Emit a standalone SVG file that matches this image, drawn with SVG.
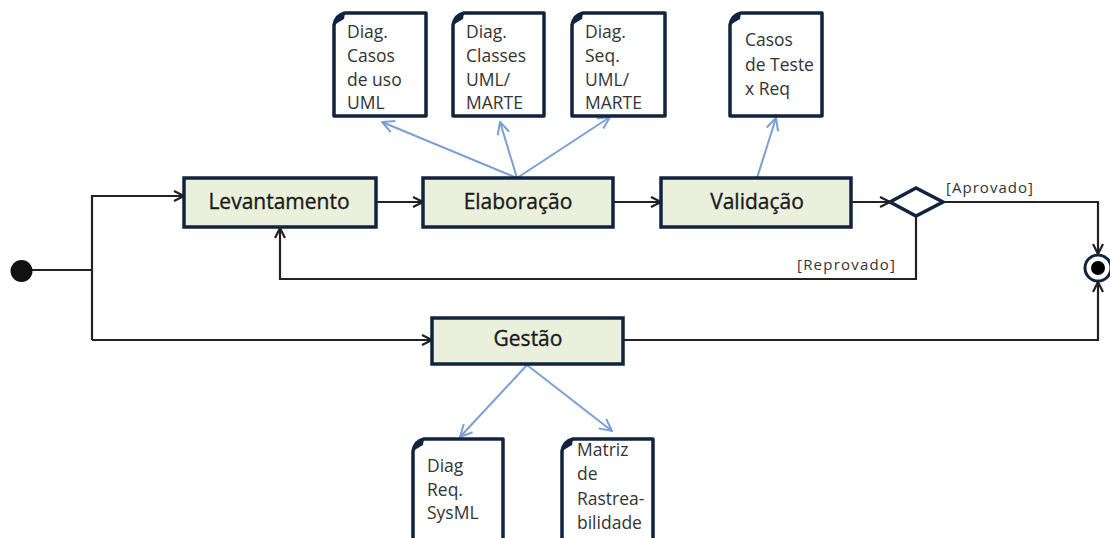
<svg xmlns="http://www.w3.org/2000/svg" width="1110" height="538" viewBox="0 0 1110 538">
<defs>
<style>
.box{fill:#ebf0dd;stroke:#10243f;stroke-width:3.5}
.doc{fill:#ffffff;stroke:#10243f;stroke-width:3.5;stroke-linejoin:round}
.fold{fill:#10243f}
.lbl{font-family:"Open Sans",sans-serif;font-size:21px;fill:#1a1a1a;text-anchor:middle;stroke:#1a1a1a;stroke-width:0.35}
.dt{font-family:"Open Sans",sans-serif;font-size:17.5px;fill:#333333}
.g{font-family:"Open Sans",sans-serif;font-size:15px;fill:#333333}
.c{fill:none;stroke:#222222;stroke-width:2.2}
.b{fill:none;stroke:#7aa0d4;stroke-width:2}
</style>
<marker id="ah" viewBox="0 0 12 12" refX="11" refY="6" markerWidth="12" markerHeight="12" markerUnits="userSpaceOnUse" orient="auto">
<path d="M1,1 L11,6 L1,11" fill="none" stroke="#222222" stroke-width="2.2"/>
</marker>
<marker id="bh" viewBox="0 0 14 14" refX="13" refY="7" markerWidth="14" markerHeight="14" markerUnits="userSpaceOnUse" orient="auto">
<path d="M1,1 L13,7 L1,13" fill="none" stroke="#7aa0d4" stroke-width="2"/>
</marker>
</defs>
<rect width="1110" height="538" fill="#ffffff"/>

<g id="connectors">
<path class="c" d="M32,270 H92"/>
<path class="c" d="M92,340 V196 H184" marker-end="url(#ah)"/>
<path class="c" d="M92,340 H432" marker-end="url(#ah)"/>
<path class="c" d="M376,202 H423" marker-end="url(#ah)"/>
<path class="c" d="M613,202 H661" marker-end="url(#ah)"/>
<path class="c" d="M851,202 H890" marker-end="url(#ah)"/>
<path class="c" d="M943,202 H1098 V254" marker-end="url(#ah)"/>
<path class="c" d="M916,217 V279 H280 V228" marker-end="url(#ah)"/>
<path class="c" d="M623,340 H1098 V282" marker-end="url(#ah)"/>
<path class="b" d="M517,178 L382,122" marker-end="url(#bh)"/>
<path class="b" d="M517,178 L500,122" marker-end="url(#bh)"/>
<path class="b" d="M517,178 L610,117" marker-end="url(#bh)"/>
<path class="b" d="M757,178 L776,118" marker-end="url(#bh)"/>
<path class="b" d="M527,365 L460,437" marker-end="url(#bh)"/>
<path class="b" d="M527,365 L612,431" marker-end="url(#bh)"/>
<text class="g" x="946" y="193" textLength="87">[Aprovado]</text>
<text class="g" x="797" y="270" textLength="98">[Reprovado]</text>
</g>

<g id="initial">
<circle cx="21.5" cy="271" r="11" fill="#111111"/>
</g>

<g id="final">
<circle cx="1098" cy="268" r="13" fill="#ffffff" stroke="#10243f" stroke-width="3"/>
<circle cx="1098" cy="268" r="7" fill="#000000"/>
</g>

<g id="levantamento">
<rect class="box" x="184" y="178" width="192" height="49"/>
<text class="lbl" x="279" y="209">Levantamento</text>
</g>
<g id="elaboracao">
<rect class="box" x="423" y="178" width="190" height="49"/>
<text class="lbl" x="518" y="209">Elaboração</text>
</g>
<g id="validacao">
<rect class="box" x="661" y="178" width="190" height="49"/>
<text class="lbl" x="757" y="209">Validação</text>
</g>
<g id="gestao">
<rect class="box" x="432" y="318" width="191" height="46"/>
<text class="lbl" x="528" y="346">Gestão</text>
</g>

<g id="decision">
<path d="M890,202 L916,188 L943,202 L916,216 Z" fill="#ffffff" stroke="#10243f" stroke-width="3.5"/>
</g>

<g id="doc-casos-uso">
<path class="doc" d="M345,13 H426 V116 H334 V25 Q336,15 345,13 Z"/>
<path class="fold" d="M334,25 Q336,15 345,13 L344,19 Z"/>
<text class="dt" x="347" y="38">Diag.</text>
<text class="dt" x="347" y="62">Casos</text>
<text class="dt" x="347" y="86">de uso</text>
<text class="dt" x="347" y="109">UML</text>
</g>
<g id="doc-classes">
<path class="doc" d="M464,13 H544 V116 H453 V25 Q455,15 464,13 Z"/>
<path class="fold" d="M453,25 Q455,15 464,13 L463,19 Z"/>
<text class="dt" x="466" y="38">Diag.</text>
<text class="dt" x="466" y="62">Classes</text>
<text class="dt" x="466" y="86">UML/</text>
<text class="dt" x="466" y="109">MARTE</text>
</g>
<g id="doc-seq">
<path class="doc" d="M583,13 H665 V116 H572 V25 Q574,15 583,13 Z"/>
<path class="fold" d="M572,25 Q574,15 583,13 L582,19 Z"/>
<text class="dt" x="585" y="38">Diag.</text>
<text class="dt" x="585" y="62">Seq.</text>
<text class="dt" x="585" y="86">UML/</text>
<text class="dt" x="585" y="109">MARTE</text>
</g>
<g id="doc-casos-teste">
<path class="doc" d="M741,13 H822 V116 H730 V25 Q732,15 741,13 Z"/>
<path class="fold" d="M730,25 Q732,15 741,13 L740,19 Z"/>
<text class="dt" x="745" y="46">Casos</text>
<text class="dt" x="745" y="71">de Teste</text>
<text class="dt" x="745" y="95">x Req</text>
</g>
<g id="doc-req-sysml">
<path class="doc" d="M424,439 H503 V545 H413 V451 Q415,441 424,439 Z"/>
<path class="fold" d="M413,451 Q415,441 424,439 L423,445 Z"/>
<text class="dt" x="427" y="472">Diag</text>
<text class="dt" x="427" y="496">Req.</text>
<text class="dt" x="427" y="519">SysML</text>
</g>
<g id="doc-matriz">
<path class="doc" d="M573,439 H653 V545 H562 V451 Q564,441 573,439 Z"/>
<path class="fold" d="M562,451 Q564,441 573,439 L572,445 Z"/>
<text class="dt" x="577" y="456">Matriz</text>
<text class="dt" x="577" y="480">de</text>
<text class="dt" x="577" y="505">Rastrea-</text>
<text class="dt" x="577" y="529">bilidade</text>
</g>
</svg>
